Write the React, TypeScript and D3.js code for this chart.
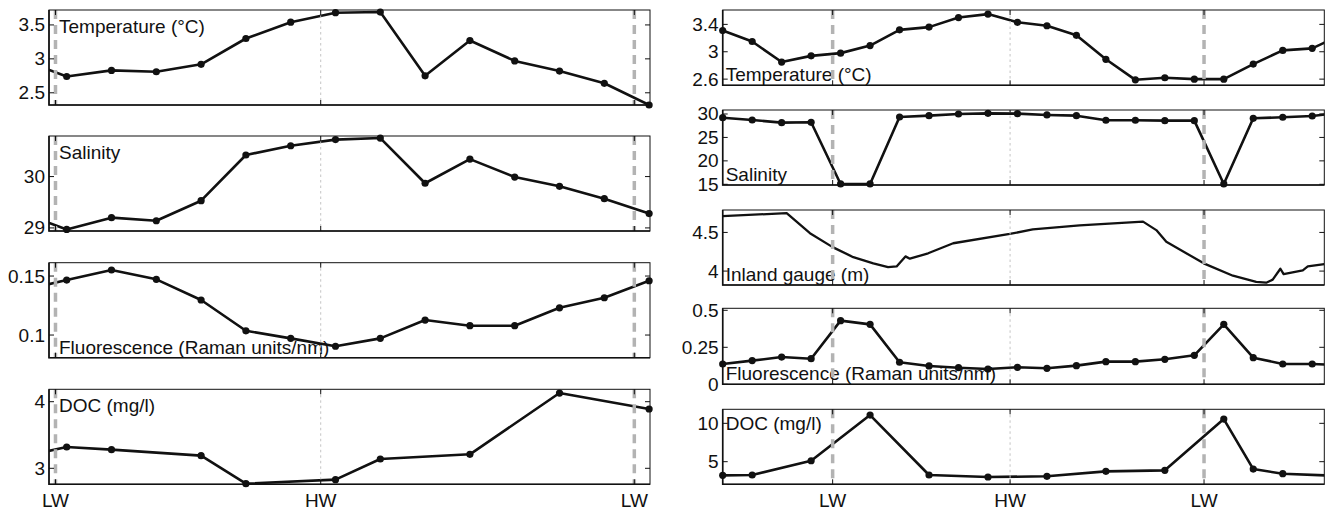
import React, { useEffect, useRef } from 'react';
import * as d3 from 'd3';

// left campaign, hourly samples (hour -1 sits just outside the axes)
const leftHours = [-1, 0, 1, 2, 3, 4, 5, 6, 7, 8, 9, 10, 11, 12, 13];
const leftTemp = [2.99, 2.74, 2.83, 2.81, 2.92, 3.30, 3.54, 3.68, 3.69, 2.75, 3.27, 2.97, 2.82, 2.64, 2.32];
const leftSal = [29.30, 28.97, 29.20, 29.14, 29.53, 30.42, 30.60, 30.72, 30.75, 29.87, 30.34, 29.99, 29.81, 29.57, 29.28];
const leftFluor = [0.138, 0.1466, 0.1551, 0.1472, 0.1297, 0.1036, 0.0972, 0.0905, 0.0972, 0.1127, 0.1079, 0.1079, 0.1231, 0.1316, 0.146];
const leftDoc = [3.17, 3.32, 3.28, null, 3.19, 2.77, null, 2.83, 3.14, null, 3.21, null, 4.13, null, 3.89];

// right campaign, hourly samples (hour 21 sits just outside the axes)
const rightHours = [0, 1, 2, 3, 4, 5, 6, 7, 8, 9, 10, 11, 12, 13, 14, 15, 16, 17, 18, 19, 20, 21];
const rightTemp = [3.31, 3.15, 2.85, 2.94, 2.98, 3.09, 3.32, 3.36, 3.50, 3.55, 3.43, 3.38, 3.24, 2.89, 2.59, 2.62, 2.60, 2.60, 2.82, 3.02, 3.05, 3.25];
const rightSal = [29.21, 28.72, 28.15, 28.23, 15.07, 15.07, 29.36, 29.64, 30.0, 30.14, 30.07, 29.79, 29.64, 28.66, 28.66, 28.58, 28.58, 15.07, 29.08, 29.30, 29.57, 30.3];
const rightFluor = [0.137, 0.16, 0.184, 0.173, 0.43, 0.405, 0.149, 0.124, 0.112, 0.103, 0.115, 0.108, 0.126, 0.153, 0.153, 0.169, 0.196, 0.405, 0.18, 0.137, 0.137, 0.13];
const rightDoc = [3.22, 3.26, null, 5.12, null, 11.08, null, 3.26, null, 3.0, null, 3.09, null, 3.74, null, 3.87, null, 10.56, 4.04, 3.43, null, 3.13];

// inland gauge record (continuous)
const gaugeHours = [0, 2.17, 2.96, 3.73, 4.43, 5.11, 5.61, 5.90, 6.20, 6.35, 6.97, 7.82, 9.74, 10.52, 12.11, 14.26, 14.71, 15.05, 16.32, 17.31, 18.10, 18.44, 18.66, 18.92, 19.03, 19.68, 19.85, 20.41];
const gaugeLevel = [4.71, 4.75, 4.49, 4.31, 4.18, 4.10, 4.05, 4.06, 4.19, 4.16, 4.23, 4.36, 4.48, 4.54, 4.59, 4.64, 4.53, 4.38, 4.10, 3.94, 3.86, 3.85, 3.89, 4.03, 3.96, 4.01, 4.06, 4.09];

const tideLabels = ['LW', 'HW', 'LW'];
const leftTideHours = [-0.25, 5.67, 12.67];
const rightTideHours = [3.73, 9.75, 16.33];

const leftTempTicks = [2.5, 3, 3.5];
const leftSalTicks = [29, 30];
const leftFluorTicks = [0.1, 0.15];
const leftDocTicks = [3, 4];
const rightTempTicks = [2.6, 3, 3.4];
const rightSalTicks = [15, 20, 25, 30];
const gaugeTicks = [4, 4.5];
const rightFluorTicks = [0, 0.25, 0.5];
const rightDocTicks = [5, 10];

const font = '"Liberation Sans", Arial, Helvetica, sans-serif';
const fontSize = '19px';

const columns: any = {
  left: { x0: 49, x1: 650, domain: [-0.395, 13.02], tides: leftTideHours, labelDx: 10 },
  right: { x0: 722.7, x1: 1324.3, domain: [0, 20.41], tides: rightTideHours, labelDx: 3 },
};

const panels: any[] = [
  { col: 'left', top: 10, bottom: 105, domain: [2.32, 3.72], ticks: leftTempTicks, label: 'Temperature (°C)', labelAt: 'top', hours: leftHours, values: leftTemp, markers: true },
  { col: 'left', top: 136, bottom: 231, domain: [28.94, 30.79], ticks: leftSalTicks, label: 'Salinity', labelAt: 'top', hours: leftHours, values: leftSal, markers: true },
  { col: 'left', top: 262.7, bottom: 357.7, domain: [0.0808, 0.1613], ticks: leftFluorTicks, label: 'Fluorescence (Raman units/nm)', labelAt: 'bottom', hours: leftHours, values: leftFluor, markers: true },
  { col: 'left', top: 389.3, bottom: 484.3, domain: [2.76, 4.186], ticks: leftDocTicks, label: 'DOC (mg/l)', labelAt: 'top', hours: leftHours, values: leftDoc, markers: true, xLabels: true },
  { col: 'right', top: 10, bottom: 85.3, domain: [2.51, 3.61], ticks: rightTempTicks, label: 'Temperature (°C)', labelAt: 'bottom', hours: rightHours, values: rightTemp, markers: true },
  { col: 'right', top: 110, bottom: 185, domain: [14.85, 30.85], ticks: rightSalTicks, label: 'Salinity', labelAt: 'bottom', hours: rightHours, values: rightSal, markers: true },
  { col: 'right', top: 210, bottom: 285, domain: [3.82, 4.79], ticks: gaugeTicks, label: 'Inland gauge (m)', labelAt: 'bottom', hours: gaugeHours, values: gaugeLevel, markers: false },
  { col: 'right', top: 308.3, bottom: 384.3, domain: [0, 0.5135], ticks: rightFluorTicks, label: 'Fluorescence (Raman units/nm)', labelAt: 'bottom', hours: rightHours, values: rightFluor, markers: true },
  { col: 'right', top: 409.3, bottom: 484.3, domain: [2.05, 11.83], ticks: rightDocTicks, label: 'DOC (mg/l)', labelAt: 'top', hours: rightHours, values: rightDoc, markers: true, xLabels: true },
];

function App() {
  const ref = useRef<SVGSVGElement>(null);

  useEffect(() => {
    const svg = d3.select(ref.current);
    svg.selectAll('*').remove();

    panels.forEach((p, i) => {
      const c = columns[p.col];
      const x = d3.scaleLinear().domain(c.domain).range([c.x0, c.x1]);
      const y = d3.scaleLinear().domain(p.domain).range([p.bottom, p.top]);
      const g = svg.append('g');

      g.append('clipPath').attr('id', 'clip' + i)
        .append('rect')
        .attr('x', c.x0).attr('y', p.top)
        .attr('width', c.x1 - c.x0).attr('height', p.bottom - p.top);

      // panel label
      g.append('text')
        .attr('x', c.x0 + c.labelDx)
        .attr('y', p.labelAt === 'top' ? p.top + (p.col === 'left' ? 23 : 21) : p.bottom - 4)
        .style('font-family', font).style('font-size', fontSize).attr('fill', '#111')
        .text(p.label);

      // data
      const pts = p.hours.map((h: number, k: number) => [h, p.values[k]]).filter((d: any) => d[1] != null);
      const line = d3.line<any>().x(d => x(d[0])).y(d => y(d[1]));
      g.append('path')
        .attr('d', line(pts))
        .attr('clip-path', `url(#clip${i})`)
        .attr('fill', 'none').attr('stroke', '#111')
        .attr('stroke-width', p.markers ? 2.6 : 2.3)
        .attr('stroke-linejoin', 'round');

      if (p.markers) {
        g.selectAll('circle.pt')
          .data(pts.filter((d: any) => d[0] >= c.domain[0] && d[0] <= c.domain[1]))
          .enter().append('circle')
          .attr('cx', (d: any) => x(d[0]))
          .attr('cy', (d: any) => y(d[1]))
          .attr('r', 3.6)
          .attr('fill', '#111');
      }

      // tide reference lines
      c.tides.forEach((t: number, k: number) => {
        const isHW = tideLabels[k] === 'HW';
        g.append('line')
          .attr('x1', x(t)).attr('x2', x(t))
          .attr('y1', p.top).attr('y2', p.bottom)
          .attr('stroke', isHW ? '#c4c4c4' : '#b3b3b3')
          .attr('stroke-width', isHW ? 1 : 3.5)
          .attr('stroke-dasharray', isHW ? '2.5,3' : '9,6');
        // inward x ticks
        g.append('line').attr('x1', x(t)).attr('x2', x(t)).attr('y1', p.bottom).attr('y2', p.bottom - 5).attr('stroke', '#111');
        g.append('line').attr('x1', x(t)).attr('x2', x(t)).attr('y1', p.top).attr('y2', p.top + 5).attr('stroke', '#111');
        if (p.xLabels) {
          g.append('text')
            .attr('x', x(t)).attr('y', p.bottom + 23)
            .attr('text-anchor', 'middle')
            .style('font-family', font).style('font-size', fontSize).attr('fill', '#111')
            .text(tideLabels[k]);
        }
      });

      // y ticks, inward on both sides
      p.ticks.forEach((t: number) => {
        g.append('line').attr('x1', c.x0).attr('x2', c.x0 + 5).attr('y1', y(t)).attr('y2', y(t)).attr('stroke', '#111');
        g.append('line').attr('x1', c.x1).attr('x2', c.x1 - 5).attr('y1', y(t)).attr('y2', y(t)).attr('stroke', '#111');
        g.append('text')
          .attr('x', c.x0 - 4).attr('y', y(t))
          .attr('text-anchor', 'end').attr('dominant-baseline', 'central')
          .style('font-family', font).style('font-size', fontSize).attr('fill', '#111')
          .text(String(t));
      });

      // box
      g.append('rect')
        .attr('x', c.x0).attr('y', p.top)
        .attr('width', c.x1 - c.x0).attr('height', p.bottom - p.top)
        .attr('fill', 'none').attr('stroke', '#111').attr('stroke-width', 1);
      g.append('path')
        .attr('d', `M${c.x0},${p.top}V${p.bottom}H${c.x1}`)
        .attr('fill', 'none').attr('stroke', '#111').attr('stroke-width', 1.6);
    });
  }, []);

  return (
    <svg ref={ref} width={1330} height={511}
      style={{ position: 'absolute', left: 0, top: 0, background: '#fff' }} />
  );
}

export default App;
